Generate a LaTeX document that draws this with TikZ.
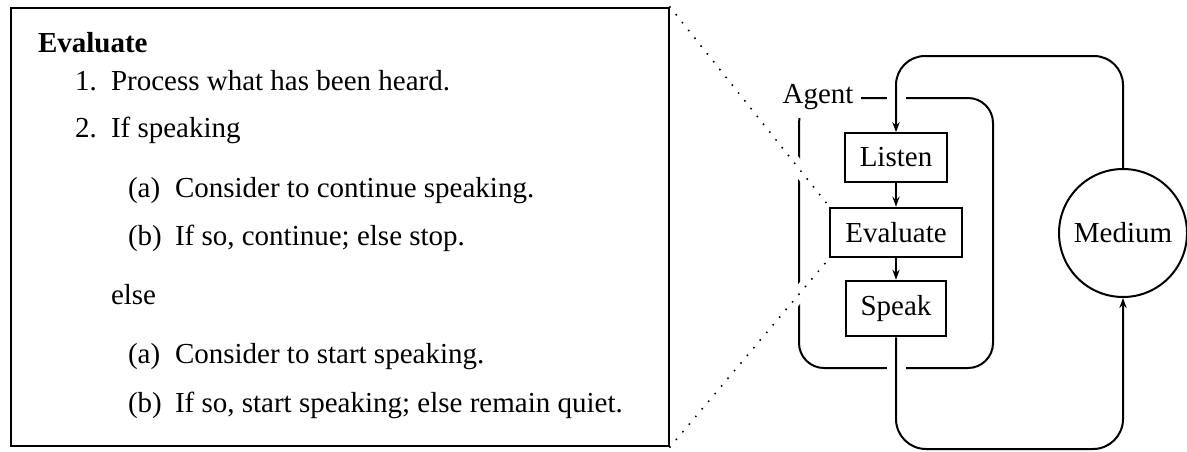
\documentclass[tikz,border=0pt]{standalone}
\usepackage{fontspec}
\setmainfont{Liberation Serif}
\usetikzlibrary{arrows.meta}
\begin{document}
\begin{tikzpicture}[x=0.5pt,y=-0.5pt, font=\fontsize{14.5}{17}\selectfont, line width=1pt,
  proc/.style={draw, rectangle, inner xsep=7.5pt, inner ysep=7.3pt},
  txt/.style={anchor=base west, inner sep=0pt},
  arr/.style={-{Stealth[length=5pt,width=3.6pt]}},
  dots/.style={line width=1.1pt, dash pattern=on 0pt off 5pt, line cap=round},
  gap/.style={white, line width=7pt}]
\useasboundingbox (0,0) rectangle (1187,451);
% detail box
\node[draw, rectangle, minimum width=329pt, minimum height=219pt, inner sep=0pt, anchor=north west] (detail) at (10,7) {};
\node[txt] (title) at (37,52) {\textbf{Evaluate}};
\node[txt] (n1) at (74,90) {1.};
\node[txt] (t1) at (110,90) {Process what has been heard.};
\node[txt] (n2) at (74,137) {2.};
\node[txt] (t2) at (110,137) {If speaking};
\node[txt] (a1) at (127,197) {(a)};
\node[txt] (ta1) at (174,197) {Consider to continue speaking.};
\node[txt] (b1) at (127,245) {(b)};
\node[txt] (tb1) at (174,245) {If so, continue; else stop.};
\node[txt] (els) at (110,304) {else};
\node[txt] (a2) at (127,363) {(a)};
\node[txt] (ta2) at (174,363) {Consider to start speaking.};
\node[txt] (b2) at (127,412) {(b)};
\node[txt] (tb2) at (174,412) {If so, start speaking; else remain quiet.};
% agent frame
\node[draw, rectangle, rounded corners=12.5pt, minimum width=97pt, minimum height=135pt, inner sep=0pt] (agent) at (896,233) {};
\node[fill=white, inner xsep=4pt, inner ysep=4.3pt, anchor=base] (agentlbl) at (818,103) {Agent};
% process nodes
\node[proc] (listen) at (896,157.5) {Listen};
\node[proc] (eval) at (896,232.5) {Evaluate};
\node[proc] (speak) at (896,308.5) {Speak};
\node[draw, circle, minimum size=64pt, inner sep=0pt] (medium) at (1123,233) {Medium};
% gaps in agent frame
\fill[white] (887,92) rectangle (906,104);
\fill[white] (887,362) rectangle (906,374);
\begin{scope}
\clip (785,0) rectangle (813,451);
\draw[gap] (detail.north east) -- (eval.north west);
\draw[gap] (detail.south east) -- (eval.south west);
\end{scope}
% dotted zoom lines
\draw[dots] (detail.north east) -- (eval.north west);
\draw[dots] (detail.south east) -- (eval.south west);
% connectors
\coordinate (toploop) at (896,56);
\coordinate (botloop) at (896,449);
\draw[arr, rounded corners=14.5pt] (medium.north) |- (toploop) -- (listen.north);
\draw[arr] (listen) -- (eval);
\draw[arr] (eval) -- (speak);
\draw[arr, rounded corners=15pt] (speak.south) -- (botloop) -| (medium.south);
\end{tikzpicture}
\end{document}
